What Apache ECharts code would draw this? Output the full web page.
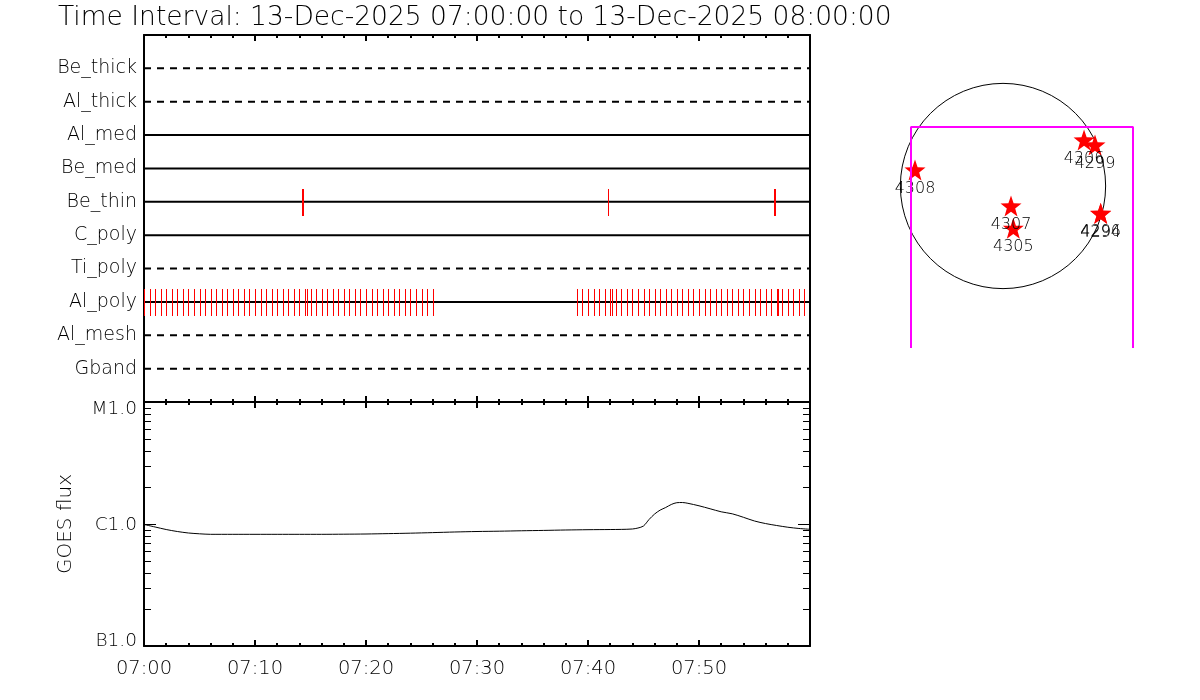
<!DOCTYPE html>
<html><head><meta charset="utf-8">
<script src="https://cdn.jsdelivr.net/npm/echarts@6/dist/echarts.min.js"></script>
<style>html,body{margin:0;padding:0;background:#fff}#c{width:1200px;height:700px}</style>
</head><body><div id="c"></div>
<script>
// ---------- data ----------
const titleText = 'Time Interval: 13-Dec-2025 07:00:00 to 13-Dec-2025 08:00:00';
const channels = ['Be_thick','Al_thick','Al_med','Be_med','Be_thin','C_poly','Ti_poly','Al_poly','Al_mesh','Gband'];
const dashedChannels = ['Be_thick','Al_thick','Ti_poly','Al_mesh','Gband'];
// event times, minutes after 07:00
const beThinEvents = [14.25, 14.35, 41.8, 56.75, 56.85];
const alPolyEvents = [
  0,0.5,1,1.5,2,2.5,3,3.5,4,4.5,5,5.5,6,6.5,7,7.5,8,8.5,9,9.5,10,10.5,11,11.5,12,12.5,13,13.5,
  14,14.5,14.65,15,15.5,16,16.5,17,17.5,18,18.5,19,19.5,20,20.5,21,21.5,22,22.5,23,23.5,24,24.5,25,25.5,26,
  39,39.5,40,40.5,41,41.5,42,42.15,42.5,43,43.5,44,44.5,45,45.5,46,46.5,47,47.5,48,48.5,49,49.5,
  50,50.5,51,51.5,52,52.5,53,53.5,54,54.5,55,55.5,56,56.5,57,57.15,57.5,58,58.5,59,59.5
];
const timeTickLabels = ['07:00','07:10','07:20','07:30','07:40','07:50'];
// GOES flux (W/m^2) vs minutes after 07:00
const goesMinutes = [0,1,2,3,4,5,6,8,10,12,14,16,18,20,22,24,26,28,30,32,34,36,38,40,42,43,44,44.5,45,45.5,46,46.5,47,47.5,48,48.5,49,50,51,52,53,54,55,56,57,58,59,60];
const goesFlux = [9.91e-7,9.45e-7,9.01e-7,8.68e-7,8.44e-7,8.31e-7,8.23e-7,8.23e-7,8.23e-7,8.23e-7,8.23e-7,8.23e-7,8.25e-7,8.28e-7,8.34e-7,8.41e-7,8.50e-7,8.60e-7,8.68e-7,8.73e-7,8.80e-7,8.86e-7,8.93e-7,8.98e-7,9.01e-7,9.03e-7,9.10e-7,9.27e-7,9.63e-7,1.089e-6,1.207e-6,1.30e-6,1.365e-6,1.445e-6,1.495e-6,1.50e-6,1.478e-6,1.41e-6,1.333e-6,1.259e-6,1.212e-6,1.135e-6,1.058e-6,1.008e-6,9.72e-7,9.41e-7,9.19e-7,9.05e-7];
const fluxTickValues = [1e-7, 1e-6, 1e-5];
const fluxTickLabels = ['B1.0', 'C1.0', 'M1.0'];
const fluxMinorValues = [2e-7,3e-7,4e-7,5e-7,6e-7,7e-7,8e-7,9e-7,2e-6,3e-6,4e-6,5e-6,6e-6,7e-6,8e-6,9e-6];
const yAxisName = 'GOES flux';
// solar disk (arcsec)
const solarRadius = 975;
const fovX = [-874, -874, 1235, 1235];
const fovY = [-1539, 560, 560, -1539];
const regionNumbers = ['4308','4307','4305','4306','4299','4296','4294'];
const regionX = [-836, 76, 98, 770, 874, 928, 928];
const regionY = [152, -190, -402, 437, 390, -259, -262];

// ---------- chart ----------
const FONT = 'DejaVu Sans';
const chart = echarts.init(document.getElementById('c'), null, {renderer: 'canvas'});
const rowValue = name => channels.length - channels.indexOf(name);

function tickRender(params, api) {
  const p = api.coord([api.value(0), api.value(1)]);
  const half = Math.round(api.size([0, 0.4])[1]);
  const x = Math.round(p[0]);
  const y = Math.round(p[1]);
  return {type: 'rect', shape: {x: x, y: y - half, width: 1, height: 2 * half + 1},
          style: {fill: '#ff0000', stroke: null, lineWidth: 0}, z2: 10};
}

const rowSeries = channels.map(name => ({
  type: 'line', xAxisIndex: 0, yAxisIndex: 0, silent: true, symbol: 'none', animation: false, z: 2,
  data: [[0, rowValue(name)], [60, rowValue(name)]],
  lineStyle: {color: '#000', width: 2, type: dashedChannels.includes(name) ? [7, 6] : 'solid'}
}));

const baseX = (grid, pos, labels) => ({
  type: 'value', gridIndex: grid, position: pos, min: 0, max: 60, interval: 10,
  axisLine: {show: true, onZero: false, lineStyle: {color: '#000', width: 2}},
  axisTick: {show: true, inside: true, length: 6, lineStyle: {color: '#000', width: 2}},
  minorTick: {show: true, splitNumber: 5, length: 3, lineStyle: {color: '#000', width: 2}},
  splitLine: {show: false}, minorSplitLine: {show: false},
  axisLabel: labels ? {
    show: true, color: '#000', fontFamily: FONT, fontWeight: 200, fontSize: 19.5, margin: 13,
    showMinLabel: true, showMaxLabel: true,
    formatter: v => timeTickLabels[Math.round(v / 10)] || ''
  } : {show: false}
});

const logY = (pos, labels) => ({
  type: 'log', logBase: 10, gridIndex: 1, position: pos, min: 1e-7, max: 1e-5,
  axisLine: {show: true, onZero: false, lineStyle: {color: '#000', width: 2}},
  axisTick: {show: true, inside: true, length: 12, lineStyle: {color: '#000', width: 1}},
  splitLine: {show: false}, minorTick: {show: false},
  name: labels ? yAxisName : '', nameLocation: 'middle', nameGap: 68,
  nameTextStyle: {color: '#000', fontFamily: FONT, fontWeight: 200, fontSize: 20},
  axisLabel: labels ? {
    show: true, color: '#000', fontFamily: FONT, fontWeight: 200, fontSize: 18.5, margin: 7,
    showMinLabel: true, showMaxLabel: true,
    formatter: v => {
      const i = fluxTickValues.findIndex(t => Math.abs(Math.log10(t) - Math.log10(v)) < 0.01);
      if (i < 0) return '';
      if (i === 0) return '{b|' + fluxTickLabels[i] + '}';
      if (i === fluxTickValues.length - 1) return '{t|' + fluxTickLabels[i] + '}';
      return '{m|' + fluxTickLabels[i] + '}';
    },
    rich: {
      t: {fontFamily: FONT, fontWeight: 200, fontSize: 18.5, color: '#000', padding: [14, 0, 0, 0]},
      m: {fontFamily: FONT, fontWeight: 200, fontSize: 18.5, color: '#000', padding: [2, 0, 0, 0]},
      b: {fontFamily: FONT, fontWeight: 200, fontSize: 18.5, color: '#000', padding: [0, 0, 9, 0]}
    }
  } : {show: false}
});

const option = {
  backgroundColor: '#fff',
  animation: false,
  title: {text: titleText, left: 53, top: 0,
    textStyle: {fontFamily: FONT, fontWeight: 200, fontSize: 26.5, color: '#000'}},
  grid: [
    {left: 144, right: 390, top: 35, height: 367, outerBoundsMode: 'none', containLabel: false},
    {left: 144, right: 390, top: 402, height: 244, outerBoundsMode: 'none', containLabel: false},
    {left: 883, width: 280, top: 56, height: 300, outerBoundsMode: 'none', containLabel: false}
  ],
  xAxis: [
    baseX(0, 'bottom', false),
    baseX(0, 'top', false),
    baseX(1, 'bottom', true),
    baseX(1, 'top', false),
    {type: 'value', gridIndex: 2, min: -1140, max: 1520, show: false}
  ],
  yAxis: [
    {type: 'value', gridIndex: 0, position: 'left', min: 0, max: 11, interval: 1,
     axisLine: {show: true, onZero: false, lineStyle: {color: '#000', width: 2}},
     axisTick: {show: false}, splitLine: {show: false},
     axisLabel: {show: true, color: '#000', fontFamily: FONT, fontWeight: 200, fontSize: 19, margin: 7,
       formatter: v => (v >= 1 && v <= channels.length) ? channels[channels.length - v] : ''}},
    {type: 'value', gridIndex: 0, position: 'right', min: 0, max: 11, interval: 1,
     axisLine: {show: true, onZero: false, lineStyle: {color: '#000', width: 2}},
     axisTick: {show: false}, splitLine: {show: false}, axisLabel: {show: false}},
    logY('left', true),
    logY('right', false),
    {type: 'value', gridIndex: 2, min: -1615, max: 1235, show: false}
  ],
  series: [
    ...rowSeries,
    {type: 'custom', xAxisIndex: 0, yAxisIndex: 0, silent: true, clip: false, z: 5,
     itemStyle: {color: '#ff0000'},
     data: beThinEvents.map(t => [t, rowValue('Be_thin')]), renderItem: tickRender},
    {type: 'custom', xAxisIndex: 0, yAxisIndex: 0, silent: true, clip: false, z: 5,
     itemStyle: {color: '#ff0000'}, progressive: 0,
     data: alPolyEvents.map(t => [t, rowValue('Al_poly')]), renderItem: tickRender},
    {type: 'line', xAxisIndex: 2, yAxisIndex: 2, silent: true, symbol: 'none', smooth: 0.3,
     data: goesMinutes.map((m, i) => [m, goesFlux[i]]),
     lineStyle: {color: '#000', width: 1}},
    {type: 'custom', xAxisIndex: 2, yAxisIndex: 2, silent: true, clip: false,
     data: fluxMinorValues.map(v => [0, v]),
     renderItem: (params, api) => {
       const a = api.coord([0, api.value(1)]);
       const b = api.coord([60, api.value(1)]);
       const y = Math.round(a[1]) + 0.5;
       return {type: 'group', children: [
         {type: 'line', shape: {x1: a[0], y1: y, x2: a[0] + 7, y2: y}, style: {stroke: '#000', lineWidth: 1}},
         {type: 'line', shape: {x1: b[0] - 7, y1: y, x2: b[0], y2: y}, style: {stroke: '#000', lineWidth: 1}}
       ]};
     }},
    {type: 'custom', xAxisIndex: 4, yAxisIndex: 4, silent: true, clip: false,
     data: [[0, 0, solarRadius]],
     renderItem: (params, api) => {
       const c = api.coord([api.value(0), api.value(1)]);
       const r = api.size([api.value(2), 0])[0];
       return {type: 'circle', shape: {cx: c[0], cy: c[1], r: r},
               style: {fill: 'none', stroke: '#000', lineWidth: 1}};
     }},
    {type: 'line', xAxisIndex: 4, yAxisIndex: 4, silent: true, symbol: 'none',
     data: fovX.map((x, i) => [x, fovY[i]]),
     lineStyle: {color: '#ff00ff', width: 2}},
    {type: 'scatter', xAxisIndex: 4, yAxisIndex: 4, silent: true,
     symbol: 'path://M0,-10 L2.35,-3.24 L9.51,-3.09 L3.8,1.24 L5.88,8.09 L0,4 L-5.88,8.09 L-3.8,1.24 L-9.51,-3.09 L-2.35,-3.24 Z',
     symbolSize: 21,
     itemStyle: {color: '#ff0000', opacity: 1},
     data: regionNumbers.map((n, i) => ({name: n, value: [regionX[i], regionY[i]]})),
     label: {show: true, position: 'inside', offset: [0, 19], formatter: p => p.name,
       color: '#000', fontFamily: FONT, fontWeight: 200, fontSize: 16}}
  ]
};
chart.setOption(option);
</script></body></html>
